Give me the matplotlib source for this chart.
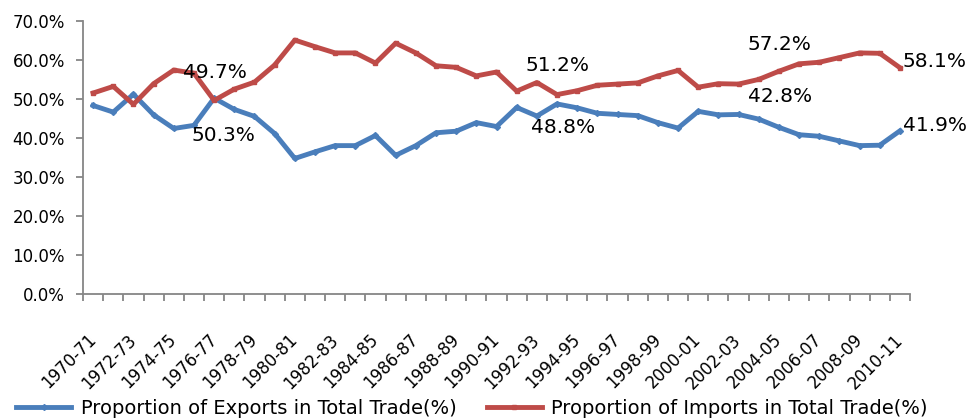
import numpy as np
import matplotlib
matplotlib.use("Agg")
import matplotlib.pyplot as plt

# fiscal years 1970-71 .. 2010-11
years = ["1970-71", "1971-72", "1972-73", "1973-74", "1974-75", "1975-76",
         "1976-77", "1977-78", "1978-79", "1979-80", "1980-81", "1981-82",
         "1982-83", "1983-84", "1984-85", "1985-86", "1986-87", "1987-88",
         "1988-89", "1989-90", "1990-91", "1991-92", "1992-93", "1993-94",
         "1994-95", "1995-96", "1996-97", "1997-98", "1998-99", "1999-00",
         "2000-01", "2001-02", "2002-03", "2003-04", "2004-05", "2005-06",
         "2006-07", "2007-08", "2008-09", "2009-10", "2010-11"]

exports = [48.4, 46.7, 51.3, 46.0, 42.5, 43.3, 50.3, 47.4, 45.6, 41.2,
           34.8, 36.5, 38.1, 38.1, 40.7, 35.6, 38.1, 41.4, 41.8, 44.0,
           43.0, 47.9, 45.7, 48.8, 47.8, 46.4, 46.1, 45.8, 44.0, 42.6,
           46.9, 46.0, 46.1, 44.9, 42.8, 40.9, 40.5, 39.3, 38.1, 38.2, 41.9]

imports = [51.6, 53.3, 48.7, 54.0, 57.5, 56.7, 49.7, 52.6, 54.4, 58.8,
           65.2, 63.5, 61.9, 61.9, 59.3, 64.4, 61.9, 58.6, 58.2, 56.0,
           57.0, 52.1, 54.3, 51.2, 52.2, 53.6, 53.9, 54.2, 56.0, 57.4,
           53.1, 54.0, 53.9, 55.1, 57.2, 59.1, 59.5, 60.7, 61.9, 61.8, 58.1]

export_label = "Proportion of Exports in Total Trade(%)"
import_label = "Proportion of Imports in Total Trade(%)"

# (series, index, dx, dy, ha) offsets in pixels
labels = [("imp", 6, 1, 28, "center"), ("exp", 6, 9, -37, "center"),
          ("imp", 23, 0, 29, "center"), ("exp", 23, 6, -24, "center"),
          ("imp", 34, 1, 27, "center"), ("exp", 34, 1, 31, "center"),
          ("imp", 40, 3, 6, "left"), ("exp", 40, 3, 5, "left")]

blue = "#4A7EBB"
red = "#BE4B48"
grey = "#868686"

fig = plt.figure(figsize=(9.71, 4.19), dpi=100)
ax = fig.add_axes([0.0855, 0.2983, 0.8517, 0.6507])

x = np.arange(len(years))
ax.plot(x, exports, color=blue, lw=3.5, marker="D", ms=3,
        label=export_label, solid_joinstyle="round")
ax.plot(x, imports, color=red, lw=3.5, marker="s", ms=3.5,
        label=import_label, solid_joinstyle="round")

for ser, i, dx, dy, ha in labels:
    vals = imports if ser == "imp" else exports
    ax.annotate("%.1f%%" % vals[i], (x[i], vals[i]), xytext=(dx, dy),
                textcoords="offset pixels", ha=ha, va="center",
                fontsize=14.5, color="black")

ax.set_xlim(-0.5, len(years) - 0.5)
ax.set_ylim(0, 70)
ax.set_yticks(np.arange(0, 71, 10))
ax.set_yticklabels(["%.1f%%" % v for v in np.arange(0, 71, 10)])
ax.set_xticks(x[::2])
ax.set_xticklabels(years[::2], rotation=45, ha="right", va="center",
                   rotation_mode="anchor")
ax.set_xticks(np.arange(-0.5, len(years)), minor=True)

for s in ["top", "right"]:
    ax.spines[s].set_visible(False)
for s in ["left", "bottom"]:
    ax.spines[s].set_color(grey)
    ax.spines[s].set_linewidth(1.3)

ax.tick_params(axis="y", length=5, width=1.3, color=grey, pad=8,
               labelsize=12)
ax.tick_params(axis="x", which="major", length=0, pad=31, labelsize=12)
ax.tick_params(axis="x", which="minor", length=5, width=1.3, color=grey)

fig.legend(loc="center", bbox_to_anchor=(472 / 971, 1 - 408 / 419),
           ncol=2, frameon=False, fontsize=14, handlelength=2.83,
           handletextpad=0.5, columnspacing=1.55, borderpad=0)

fig.savefig("out.png", dpi=100)
